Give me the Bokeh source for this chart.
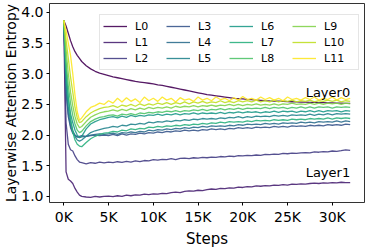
from bokeh.plotting import figure
from bokeh.models import Legend, LegendItem, FixedTicker, Label, Range1d, Title
from bokeh.palettes import viridis
from bokeh.embed import file_html
from bokeh.resources import INLINE

steps = [0, 250, 500, 750, 1000, 1250, 1500, 1750] + list(range(2000, 32001, 500))

layer_names = ["L0", "L1", "L2", "L3", "L4", "L5", "L6", "L7", "L8", "L9", "L10", "L11"]

L0 = [3.87, 3.78, 3.66, 3.54, 3.44, 3.36, 3.30, 3.25, 3.20, 3.13, 3.08, 3.04, 3.01, 2.99, 2.97,
      2.95, 2.935, 2.92, 2.905, 2.89, 2.875, 2.865, 2.855, 2.845,
      2.835, 2.82, 2.81, 2.795, 2.78, 2.765, 2.75, 2.735, 2.72,
      2.705, 2.69, 2.675, 2.66, 2.65, 2.64, 2.63, 2.62, 2.61,
      2.60, 2.595, 2.59, 2.583, 2.577, 2.572, 2.567, 2.562, 2.558,
      2.555, 2.552, 2.549, 2.546, 2.543, 2.54, 2.538, 2.536, 2.534,
      2.532, 2.53, 2.528, 2.526, 2.524, 2.522, 2.52, 2.518, 2.516]
L1 = [3.87, 1.40, 1.28, 1.25, 1.21, 1.13, 1.07, 1.02, 1.00, 0.99, 0.985, 1.00, 0.99, 1.00, 1.005,
      0.995, 1.01, 1.00, 1.02, 1.01, 1.025, 1.02, 1.035, 1.03,
      1.04, 1.035, 1.05, 1.045, 1.06, 1.07, 1.06, 1.08, 1.09,
      1.085, 1.10, 1.095, 1.11, 1.12, 1.115, 1.13, 1.125, 1.14,
      1.135, 1.15, 1.145, 1.16, 1.155, 1.17, 1.165, 1.175, 1.17,
      1.185, 1.18, 1.19, 1.185, 1.20, 1.195, 1.205, 1.20, 1.21,
      1.215, 1.21, 1.22, 1.215, 1.225, 1.22, 1.23, 1.225, 1.225]
L2 = [3.87, 2.20, 1.85, 1.76, 1.74, 1.66, 1.60, 1.56, 1.55, 1.53, 1.55, 1.54, 1.56, 1.545, 1.56,
      1.55, 1.565, 1.555, 1.57, 1.56, 1.58, 1.565, 1.585, 1.58,
      1.60, 1.59, 1.605, 1.60, 1.615, 1.60, 1.62, 1.625, 1.615,
      1.63, 1.625, 1.635, 1.63, 1.64, 1.635, 1.65, 1.645, 1.655,
      1.65, 1.665, 1.66, 1.67, 1.665, 1.675, 1.67, 1.685, 1.68,
      1.69, 1.685, 1.70, 1.695, 1.705, 1.70, 1.71, 1.715, 1.71,
      1.725, 1.72, 1.73, 1.725, 1.74, 1.735, 1.745, 1.76, 1.75]
L3 = [3.87, 2.70, 2.30, 2.12, 2.03, 1.99, 1.97, 1.98, 1.99, 1.98, 1.99, 2.00, 1.99, 2.00, 1.99,
      2.01, 1.99, 2.02, 2.00, 2.02, 2.01, 2.03, 2.02, 2.04,
      2.03, 2.05, 2.04, 2.06, 2.05, 2.07, 2.06, 2.08, 2.07,
      2.08, 2.07, 2.09, 2.08, 2.10, 2.09, 2.10, 2.09, 2.11,
      2.10, 2.12, 2.11, 2.12, 2.11, 2.13, 2.12, 2.13, 2.12,
      2.14, 2.13, 2.14, 2.13, 2.15, 2.14, 2.15, 2.14, 2.16,
      2.15, 2.16, 2.15, 2.17, 2.16, 2.17, 2.16, 2.18, 2.17]
L4 = [3.87, 2.75, 2.35, 2.15, 2.05, 2.00, 1.97, 1.96, 1.97, 1.98, 2.00, 2.01, 2.02, 2.01, 2.02,
      2.03, 2.01, 2.04, 2.03, 2.05, 2.04, 2.06, 2.05, 2.08,
      2.07, 2.09, 2.08, 2.10, 2.09, 2.11, 2.10, 2.12, 2.11,
      2.13, 2.12, 2.14, 2.13, 2.15, 2.14, 2.15, 2.14, 2.16,
      2.15, 2.17, 2.16, 2.18, 2.17, 2.18, 2.17, 2.19, 2.18,
      2.19, 2.18, 2.20, 2.19, 2.20, 2.19, 2.21, 2.20, 2.21,
      2.20, 2.22, 2.21, 2.22, 2.21, 2.23, 2.21, 2.23, 2.22]
L5 = [3.87, 2.85, 2.45, 2.22, 2.08, 1.98, 1.92, 1.90, 1.92, 1.98, 2.04, 2.07, 2.09, 2.11, 2.12,
      2.14, 2.13, 2.16, 2.15, 2.18, 2.17, 2.19, 2.18, 2.21,
      2.20, 2.22, 2.21, 2.23, 2.22, 2.24, 2.23, 2.25, 2.24,
      2.26, 2.25, 2.27, 2.26, 2.27, 2.26, 2.28, 2.27, 2.29,
      2.28, 2.30, 2.28, 2.30, 2.29, 2.31, 2.30, 2.31, 2.30,
      2.32, 2.31, 2.32, 2.31, 2.33, 2.32, 2.33, 2.32, 2.34,
      2.32, 2.34, 2.33, 2.35, 2.33, 2.35, 2.34, 2.35, 2.34]
L6 = [3.87, 3.00, 2.60, 2.35, 2.20, 2.08, 2.00, 1.96, 1.98, 2.10, 2.18, 2.22, 2.25, 2.27, 2.29,
      2.30, 2.28, 2.31, 2.29, 2.32, 2.30, 2.32, 2.31, 2.33,
      2.32, 2.34, 2.32, 2.34, 2.33, 2.35, 2.33, 2.35, 2.34,
      2.36, 2.34, 2.36, 2.35, 2.36, 2.35, 2.37, 2.35, 2.37,
      2.36, 2.38, 2.36, 2.38, 2.37, 2.38, 2.36, 2.38, 2.37,
      2.39, 2.37, 2.39, 2.38, 2.39, 2.37, 2.39, 2.38, 2.40,
      2.38, 2.40, 2.38, 2.40, 2.39, 2.40, 2.38, 2.40, 2.39]
L7 = [3.87, 3.10, 2.60, 2.28, 2.05, 1.92, 1.85, 1.82, 1.81, 1.88, 1.94, 1.98, 2.01, 2.03, 2.04,
      2.06, 2.05, 2.08, 2.07, 2.10, 2.09, 2.11, 2.10, 2.13,
      2.12, 2.14, 2.13, 2.15, 2.14, 2.16, 2.15, 2.17, 2.16,
      2.18, 2.17, 2.19, 2.18, 2.20, 2.19, 2.21, 2.20, 2.22,
      2.21, 2.22, 2.21, 2.23, 2.22, 2.24, 2.23, 2.24, 2.23,
      2.25, 2.24, 2.25, 2.24, 2.26, 2.25, 2.26, 2.25, 2.27,
      2.26, 2.27, 2.26, 2.28, 2.26, 2.28, 2.27, 2.28, 2.27]
L8 = [3.87, 3.20, 2.80, 2.52, 2.32, 2.18, 2.08, 2.04, 2.06, 2.15, 2.22, 2.26, 2.29, 2.30, 2.32,
      2.33, 2.31, 2.34, 2.33, 2.35, 2.33, 2.36, 2.35, 2.37,
      2.36, 2.38, 2.37, 2.39, 2.38, 2.40, 2.38, 2.40, 2.39,
      2.41, 2.40, 2.42, 2.40, 2.42, 2.41, 2.43, 2.41, 2.43,
      2.42, 2.44, 2.42, 2.44, 2.43, 2.44, 2.43, 2.45, 2.43,
      2.45, 2.44, 2.45, 2.43, 2.45, 2.44, 2.46, 2.44, 2.46,
      2.44, 2.46, 2.45, 2.46, 2.44, 2.46, 2.45, 2.46, 2.45]
L9 = [3.87, 3.40, 3.00, 2.70, 2.48, 2.30, 2.18, 2.12, 2.14, 2.22, 2.29, 2.33, 2.36, 2.38, 2.39,
      2.41, 2.39, 2.42, 2.40, 2.43, 2.41, 2.44, 2.42, 2.45,
      2.43, 2.45, 2.44, 2.46, 2.44, 2.47, 2.45, 2.47, 2.46,
      2.48, 2.46, 2.48, 2.47, 2.49, 2.47, 2.49, 2.48, 2.50,
      2.48, 2.50, 2.48, 2.50, 2.49, 2.51, 2.49, 2.50, 2.49,
      2.51, 2.49, 2.51, 2.50, 2.52, 2.50, 2.51, 2.50, 2.52,
      2.50, 2.52, 2.50, 2.52, 2.51, 2.52, 2.50, 2.52, 2.51]
L10 = [3.87, 3.55, 3.25, 2.95, 2.70, 2.45, 2.28, 2.20, 2.22, 2.30, 2.36, 2.40, 2.43, 2.45, 2.46,
       2.48, 2.45, 2.49, 2.47, 2.50, 2.47, 2.51, 2.48, 2.51,
       2.49, 2.52, 2.50, 2.53, 2.50, 2.53, 2.51, 2.54, 2.51,
       2.54, 2.52, 2.55, 2.52, 2.54, 2.53, 2.56, 2.53, 2.55,
       2.53, 2.56, 2.54, 2.56, 2.54, 2.57, 2.54, 2.56, 2.54,
       2.57, 2.54, 2.56, 2.55, 2.57, 2.54, 2.56, 2.55, 2.57,
       2.54, 2.56, 2.55, 2.57, 2.55, 2.57, 2.54, 2.56, 2.55]
L11 = [3.87, 3.70, 3.50, 3.30, 3.00, 2.65, 2.38, 2.24, 2.28, 2.38, 2.45, 2.48, 2.52, 2.50, 2.56,
       2.52, 2.60, 2.54, 2.61, 2.55, 2.59, 2.53, 2.62, 2.56,
       2.60, 2.55, 2.62, 2.57, 2.60, 2.54, 2.61, 2.57, 2.59,
       2.55, 2.62, 2.57, 2.60, 2.56, 2.62, 2.58, 2.60, 2.56,
       2.61, 2.57, 2.63, 2.58, 2.60, 2.57, 2.62, 2.58, 2.61,
       2.57, 2.60, 2.56, 2.62, 2.58, 2.60, 2.57, 2.61, 2.58,
       2.62, 2.57, 2.60, 2.58, 2.62, 2.57, 2.61, 2.58, 2.60]

layers = [L0, L1, L2, L3, L4, L5, L6, L7, L8, L9, L10, L11]

x_ticks = [0, 5000, 10000, 15000, 20000, 25000, 30000]
x_tick_labels = ["0K", "5K", "10K", "15K", "20K", "25K", "30K"]
y_ticks = [1.0, 1.5, 2.0, 2.5, 3.0, 3.5, 4.0]
y_tick_labels = ["1.0", "1.5", "2.0", "2.5", "3.0", "3.5", "4.0"]

annot_texts = ["Layer0", "Layer1"]
annot_x = [32000, 32000]
annot_y = [2.58, 1.27]

x_title = "Steps"
y_title = "Layerwise Attention Entropy"

FONT = "DejaVu Sans"
colors = viridis(12)

p = figure(width=370, height=247, output_backend="svg", toolbar_location=None,
           x_range=Range1d(-1600, 33600), y_range=Range1d(0.90, 4.146),
           min_border_left=47, min_border_right=6, min_border_top=3, min_border_bottom=0,
           background_fill_color="white", border_fill_color="white")

renderers = []
for i, ys in enumerate(layers):
    r = p.line(steps, ys, line_color=colors[i], line_width=1.3, line_alpha=0.9)
    renderers.append(r)

p.xgrid.visible = False
p.ygrid.visible = False
p.outline_line_color = "black"
p.outline_line_width = 1
p.outline_line_alpha = 0.8

p.xaxis.ticker = FixedTicker(ticks=x_ticks)
p.xaxis.major_label_overrides = dict(zip(x_ticks, x_tick_labels))
p.yaxis.ticker = FixedTicker(ticks=y_ticks)
p.yaxis.major_label_overrides = dict(zip(y_ticks, y_tick_labels))

for ax in (p.xaxis[0], p.yaxis[0]):
    ax.axis_line_color = None
    ax.major_tick_line_color = "black"
    ax.major_tick_out = 3
    ax.major_tick_in = 0
    ax.minor_tick_line_color = None
    ax.major_label_text_font = FONT
    ax.major_label_text_font_size = "14px"
    ax.major_label_text_color = "black"
    ax.major_label_standoff = 3

p.add_layout(Title(text=y_title, align="center", text_font=FONT, text_font_size="14px",
                   text_font_style="normal", text_color="black", standoff=0, offset=0),
             "left")
p.add_layout(Title(text=x_title, align="center", text_font=FONT, text_font_size="15px",
                   text_font_style="normal", text_color="black", standoff=0, offset=0),
             "below")

for t, x, y in zip(annot_texts, annot_x, annot_y):
    p.add_layout(Label(x=x, y=y, text=t, text_align="right", text_baseline="bottom",
                       text_font=FONT, text_font_size="13px", text_color="black"))

items = [LegendItem(label=name, renderers=[r]) for name, r in zip(layer_names, renderers)]
legend = Legend(items=items, location=(50, 132), orientation="vertical", ncols=4,
                label_text_font=FONT, label_text_font_size="11px", label_text_color="black",
                glyph_width=24, glyph_height=16, label_height=16, label_width=31,
                label_standoff=8, spacing=0, padding=3, margin=0,
                border_line_color="#cccccc", border_line_width=1,
                background_fill_color="white", background_fill_alpha=0.8)
p.add_layout(legend)

open("out.html", "w").write(file_html(p, INLINE))
